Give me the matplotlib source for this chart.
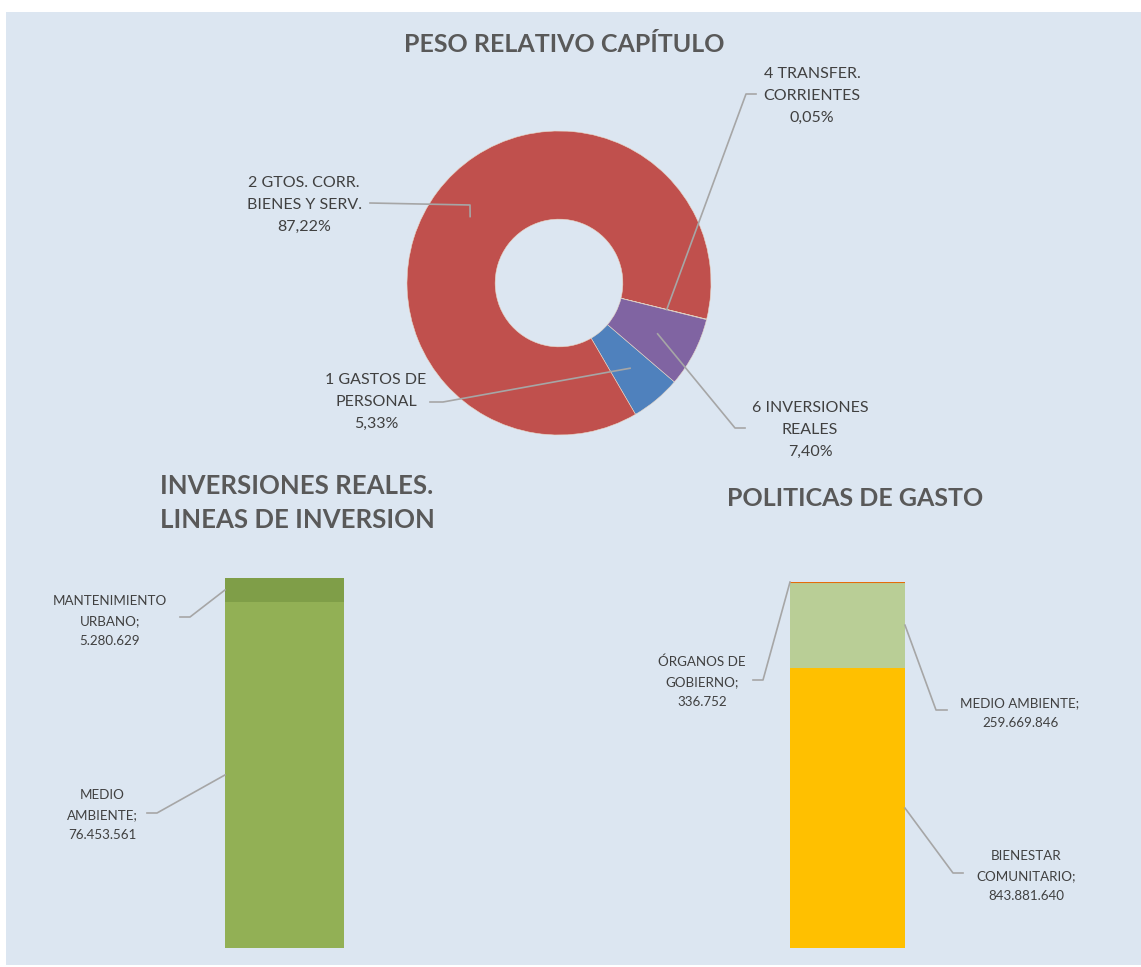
import matplotlib
matplotlib.use("Agg")
import matplotlib.pyplot as plt
from matplotlib.patches import Rectangle
import numpy as np

# datos del grafico de capitulos (porcentajes)
capitulos = ["1 GASTOS DE\nPERSONAL", "2 GTOS. CORR.\nBIENES Y SERV.",
             "4 TRANSFER.\nCORRIENTES", "6 INVERSIONES\nREALES"]
pesos = [5.33, 87.22, 0.05, 7.40]
colores_pie = ["#4F81BD", "#C0504D", "#9BBB59", "#8064A2"]

# inversiones reales por linea (abajo -> arriba)
lineas = ["MEDIO\nAMBIENTE;", "MANTENIMIENTO\nURBANO;"]
importes_lineas = [76453561, 5280629]
colores_lineas = ["#92B055", "#7F9E48"]

# politicas de gasto (abajo -> arriba)
politicas = ["BIENESTAR\nCOMUNITARIO;", "MEDIO AMBIENTE;", "ÓRGANOS DE\nGOBIERNO;"]
importes_politicas = [843881640, 259669846, 336752]
colores_politicas = ["#FFC000", "#B9CE96", "#E46C0A"]

W, H = 1141, 967
FONDO = "#DCE6F1"
TXT = "#404040"
TIT = "#595959"
LINEA = "#A6A6A6"
plt.rcParams['font.family'] = ['Lato', 'DejaVu Sans']

fig = plt.figure(figsize=(W / 100, H / 100), dpi=100, facecolor="white")
fig.patches.append(Rectangle((6 / W, 2 / H), 1 - 6 / W, (965 - 12) / H,
                             transform=fig.transFigure, facecolor=FONDO,
                             edgecolor="none", zorder=-10))


def eje(x0, y0, x1, y1):
    # ejes en pixeles (origen arriba a la izquierda)
    ax = fig.add_axes([x0 / W, (H - y1) / H, (x1 - x0) / W, (y1 - y0) / H])
    ax.set_facecolor("none")
    ax.axis("off")
    return ax


def a_datos(ax, px, py):
    return ax.transData.inverted().transform((px, H - py))


def etiqueta(ax, ancla, codo, fin, centro, texto, fs, esp):
    pc = a_datos(ax, *codo)
    pf = a_datos(ax, *fin)
    ax.plot([ancla[0], pc[0], pf[0]], [ancla[1], pc[1], pf[1]],
            color=LINEA, lw=1.2, clip_on=False, zorder=5)
    pt = a_datos(ax, *centro)
    ax.text(pt[0], pt[1], texto, ha="center", va="center", fontsize=fs,
            color=TXT, linespacing=esp, clip_on=False)


# ---- anillo ----
cx, cy, r = 559, 283, 152
ax1 = eje(cx - r, cy - r, cx + r, cy + r)
hueco = 0.42
wedges, _ = ax1.pie(pesos, colors=colores_pie, startangle=90 - 130.6,
                    counterclock=False, radius=1,
                    wedgeprops=dict(width=1 - hueco, edgecolor="#E8D8C8", linewidth=0.4))
ax1.set_xlim(-1, 1)
ax1.set_ylim(-1, 1)
ax1.set_aspect("equal")

pos_pie = [
    ((443, 402), (430, 402), (376, 402)),
    ((470, 205), (370, 203), (304, 205)),
    ((746, 94), (756, 94), (812, 96)),
    ((735, 428), (745, 428), (810, 430)),
]
for w, nombre, p, (codo, fin, centro) in zip(wedges, capitulos, pesos, pos_pie):
    ang = np.deg2rad((w.theta1 + w.theta2) / 2)
    rr = (1 + hueco) / 2 + 0.02
    ancla = (rr * np.cos(ang), rr * np.sin(ang))
    txt = nombre + "\n" + f"{p:.2f}%".replace(".", ",")
    etiqueta(ax1, ancla, codo, fin, centro, txt, 11.5, 1.72)

fig.text(564 / W, 1 - 45 / H, "PESO RELATIVO CAPÍTULO", ha="center", va="center",
         fontsize=18, fontweight="bold", color=TIT)


def miles(v):
    return f"{v:,}".replace(",", ".")


# ---- inversiones reales ----
ax2 = eje(225, 578, 344, 948)
base = 0
for nombre, v, c in zip(lineas, importes_lineas, colores_lineas):
    ax2.bar(0, v, bottom=base, width=1, color=c)
    base += v
ax2.set_xlim(-0.5, 0.5)
ax2.set_ylim(0, sum(importes_lineas))

pos_lin = [((157, 813), (147, 813), (102, 815)),
           ((190, 617), (180, 617), (110, 621))]
base = 0
for nombre, v, (codo, fin, centro) in zip(lineas, importes_lineas, pos_lin):
    etiqueta(ax2, (-0.5, base + v / 2), codo, fin, centro, nombre + "\n" + miles(v), 9.6, 1.8)
    base += v

fig.text(160 / W, 1 - 503 / H, "INVERSIONES REALES.\nLINEAS DE INVERSION", ha="left",
         va="center", fontsize=18.5, fontweight="bold", color=TIT, linespacing=1.55)

# ---- politicas de gasto ----
ax3 = eje(790, 582, 905, 948)
base = 0
for nombre, v, c in zip(politicas, importes_politicas, colores_politicas):
    ax3.bar(0, v, bottom=base, width=1, color=c, edgecolor=c, linewidth=1.5 if v < 1e6 else 0)
    base += v
ax3.set_xlim(-0.5, 0.5)
ax3.set_ylim(0, sum(importes_politicas))

pos_pol = [(0.5, (953, 873), (963, 873), (1026, 876)),
           (0.5, (936, 710), (947, 710), (1020, 713)),
           (-0.5, (763, 680), (753, 680), (702, 682))]
base = 0
for nombre, v, (lado, codo, fin, centro) in zip(politicas, importes_politicas, pos_pol):
    etiqueta(ax3, (lado, base + v / 2), codo, fin, centro, nombre + "\n" + miles(v), 9.6, 1.8)
    base += v

fig.text(855 / W, 1 - 499 / H, "POLITICAS DE GASTO", ha="center", va="center",
         fontsize=18, fontweight="bold", color=TIT)

fig.savefig("out.png", dpi=100, facecolor="white")
